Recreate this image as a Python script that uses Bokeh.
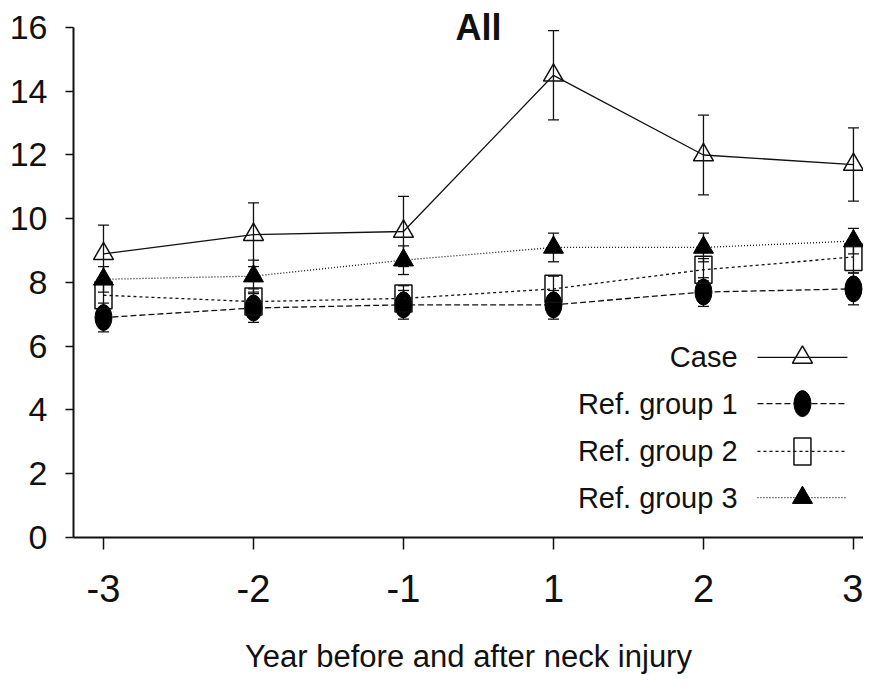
import numpy as np
from bokeh.plotting import figure
from bokeh.models import ColumnDataSource, Whisker, TeeHead, FixedTicker, Label
from bokeh.embed import file_html
from bokeh.resources import INLINE

# ---- data ----
years = ["-3", "-2", "-1", "1", "2", "3"]
case_mean = [8.9, 9.5, 9.6, 14.5, 12.0, 11.7]
case_err = [0.9, 1.0, 1.1, 1.4, 1.25, 1.15]
ref1_mean = [6.9, 7.2, 7.3, 7.3, 7.7, 7.8]
ref1_err = [0.45, 0.45, 0.45, 0.45, 0.45, 0.5]
ref2_mean = [7.6, 7.4, 7.5, 7.8, 8.4, 8.8]
ref2_err = [0.4, 0.4, 0.4, 0.4, 0.35, 0.5]
ref3_mean = [8.1, 8.2, 8.7, 9.1, 9.1, 9.3]
ref3_err = [0.4, 0.5, 0.45, 0.45, 0.45, 0.4]
y_ticks = [0, 2, 4, 6, 8, 10, 12, 14, 16]
series_names = ["Case", "Ref. group 1", "Ref. group 2", "Ref. group 3"]
title_text = "All"
x_title = "Year before and after neck injury"

FONT = "Liberation Sans"
INK = "#111111"

xpos = list(range(len(years)))

p = figure(width=863, height=682, output_backend="svg", toolbar_location=None,
           x_range=(-0.2, 5.067), y_range=(0, 16.596),
           min_border_left=73, min_border_right=0, min_border_top=8, min_border_bottom=145)
p.outline_line_color = None
p.grid.visible = False
p.background_fill_color = "white"
p.border_fill_color = "white"

# axes
p.xaxis.ticker = FixedTicker(ticks=xpos)
p.xaxis.major_label_overrides = {i: lab for i, lab in zip(xpos, years)}
p.yaxis.ticker = FixedTicker(ticks=y_ticks)
p.yaxis.bounds = (y_ticks[0], y_ticks[-1])
for ax in (p.xaxis[0], p.yaxis[0]):
    ax.axis_line_width = 2
    ax.axis_line_color = INK
    ax.major_tick_line_color = INK
    ax.major_tick_line_width = 1.5
    ax.minor_tick_line_color = None
    ax.major_label_text_color = INK
    ax.major_label_text_font = FONT
p.xaxis.major_tick_in = 0
p.xaxis.major_tick_out = 12
p.xaxis.major_label_text_font_size = "38px"
p.xaxis.major_label_standoff = 25
p.xaxis.axis_label = x_title
p.xaxis.axis_label_text_font = FONT
p.xaxis.axis_label_text_font_size = "31px"
p.xaxis.axis_label_text_font_style = "normal"
p.xaxis.axis_label_text_color = INK
p.xaxis.axis_label_standoff = 34
p.yaxis.major_tick_in = 0
p.yaxis.major_tick_out = 8
p.yaxis.major_label_text_font_size = "34px"
p.yaxis.major_label_standoff = 18

series = [
    (case_mean, case_err, "solid"),
    (ref1_mean, ref1_err, "6 3"),
    (ref2_mean, ref2_err, "3 3"),
    (ref3_mean, ref3_err, "1 2"),
]

def draw_marker(i, src):
    if i == 0:
        p.scatter("x", "y", source=src, marker="triangle", size=20,
                  fill_color=None, line_color=INK, line_width=1.5)
    elif i == 1:
        p.ellipse("x", "y", source=src, width=17, height=26,
                  width_units="screen", height_units="screen",
                  fill_color="black", line_color="black")
    elif i == 2:
        p.rect("x", "y", source=src, width=17, height=27,
               width_units="screen", height_units="screen",
               fill_color=None, line_color=INK, line_width=1.5)
    else:
        p.scatter("x", "y", source=src, marker="triangle", size=20,
                  fill_color="black", line_color="black", line_width=1)

for i, (m, e, dash) in enumerate(series):
    m = np.array(m, dtype=float)
    e = np.array(e, dtype=float)
    src = ColumnDataSource(dict(x=xpos, y=m, upper=m + e, lower=m - e))
    p.line("x", "y", source=src, line_color=INK, line_width=1.3, line_dash=dash)
    w = Whisker(source=src, base="x", upper="upper", lower="lower", dimension="height",
                line_color=INK, line_width=1.3,
                upper_head=TeeHead(size=11, line_color=INK, line_width=1.3),
                lower_head=TeeHead(size=11, line_color=INK, line_width=1.3))
    p.add_layout(w)
    draw_marker(i, src)

# legend (drawn manually: label on the left, sample on the right)
leg_y = [5.65, 4.2, 2.7, 1.25]
leg_text_x = 4.227
leg_x0, leg_x1, leg_xm = 4.36, 4.96, 4.66
for i, (name, (m, e, dash)) in enumerate(zip(series_names, series)):
    yl = leg_y[i]
    p.line([leg_x0, leg_x1], [yl, yl], line_color=INK, line_width=1.3, line_dash=dash)
    draw_marker(i, ColumnDataSource(dict(x=[leg_xm], y=[yl])))
    p.add_layout(Label(x=leg_text_x, y=yl, text=name, text_align="right",
                       text_baseline="middle", text_font=FONT,
                       text_font_size="29px", text_color=INK))

# title inside the plot
p.add_layout(Label(x=(xpos[2] + xpos[3]) / 2, y=y_ticks[-1], text=title_text,
                   text_align="center", text_baseline="middle", text_font=FONT,
                   text_font_size="36px", text_font_style="bold", text_color=INK))

open("out.html", "w").write(file_html(p, INLINE))
